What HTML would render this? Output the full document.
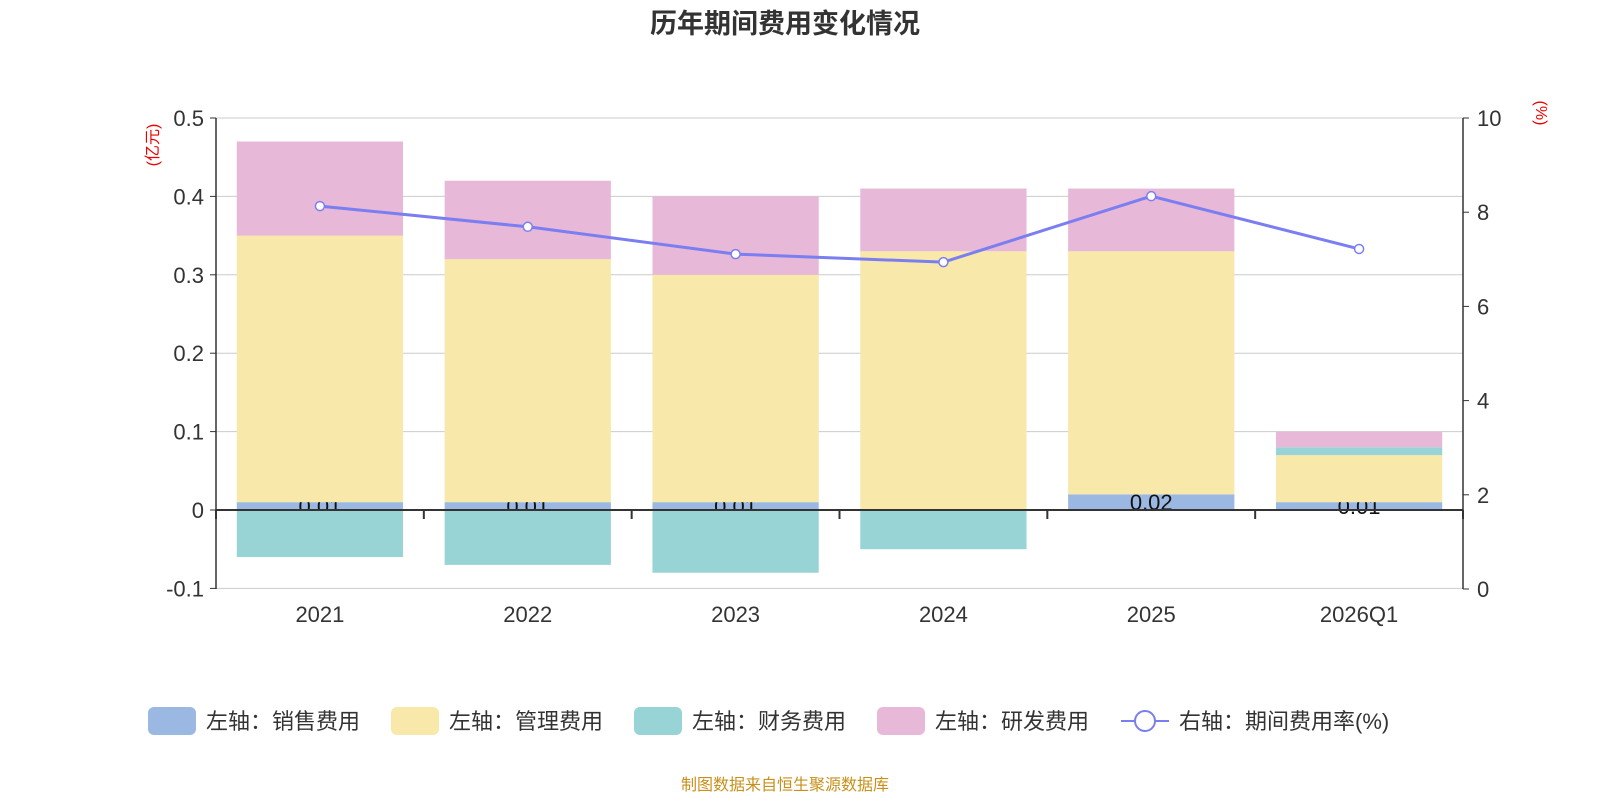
<!DOCTYPE html>
<html><head><meta charset="utf-8"><style>
body{margin:0;background:#fff;}
svg{display:block;font-family:"Liberation Sans","Noto Sans CJK SC",sans-serif;}
</style></head><body>
<svg id="c" width="1600" height="800">
<text x="785" y="33" text-anchor="middle" font-size="27" font-weight="bold" fill="#333">历年期间费用变化情况</text>
<text x="158" y="145" font-size="16" fill="#e00" transform="rotate(-90 158 145)" text-anchor="middle">(亿元)</text>
<text x="1536" y="113" font-size="16" fill="#e00" transform="rotate(90 1536 113)" text-anchor="middle">(%)</text>
<g id="grid"></g><g id="bars"></g><g id="axes"></g><g id="line"></g><g id="legend"></g>
<text x="785" y="790" text-anchor="middle" font-size="16" fill="#c8901a">制图数据来自恒生聚源数据库</text>
</svg>
<script>
const categories=["2021","2022","2023","2024","2025","2026Q1"];
const sales=[0.01,0.01,0.01,0,0.02,0.01];
const mgmt=[0.34,0.31,0.29,0.33,0.31,0.06];
const finance=[-0.06,-0.07,-0.08,-0.05,0,0.01];
const rnd=[0.12,0.10,0.10,0.08,0.08,0.02];
const rate=[8.13,7.69,7.11,6.94,8.34,7.22];
const leftTicks=[0.5,0.4,0.3,0.2,0.1,0,-0.1];
const rightTicks=[10,8,6,4,2,0];
const NS="http://www.w3.org/2000/svg";
const L=216,R=1463,T=118,B=589;
const yL=v=>510-v*784;
const yR=v=>B-(v/10)*(B-T);
const band=(R-L)/categories.length;
const xC=i=>L+band*(i+0.5);
const bw=band*0.8;
function mk(p,tag,at){const e=document.createElementNS(NS,tag);for(const k in at)e.setAttribute(k,at[k]);document.getElementById(p).appendChild(e);return e;}
leftTicks.forEach(t=>{
 const g=mk('grid','line',{x1:L,x2:R,y1:yL(t),y2:yL(t),stroke:'#ccc','stroke-width':1});
 
 
 const tx=mk('axes','text',{x:L-12,y:yL(t)+8,'text-anchor':'end','font-size':22,fill:'#333'});
 tx.textContent=String(t);
 
 
 mk('axes','line',{x1:L-6,x2:L,y1:yL(t),y2:yL(t),stroke:'#333','stroke-width':1});
});
rightTicks.forEach(t=>{
 const tx=mk('axes','text',{x:R+14,y:yR(t)+8,'font-size':22,fill:'#333'});
 tx.textContent=t;
 
 
 mk('axes','line',{x1:R,x2:R+6,y1:yR(t),y2:yR(t),stroke:'#333','stroke-width':1});
});
mk('axes','line',{x1:L,x2:L,y1:T,y2:B,stroke:'#333','stroke-width':1.5});
mk('axes','line',{x1:R,x2:R,y1:T,y2:B,stroke:'#333','stroke-width':1.5});
mk('axes','line',{x1:L,x2:R,y1:510,y2:510,stroke:'#333','stroke-width':2});
for(let i=0;i<=categories.length;i++){mk('axes','line',{x1:L+band*i,x2:L+band*i,y1:510,y2:519,stroke:'#333','stroke-width':2});}
categories.forEach((c,i)=>{
 const tx=mk('axes','text',{x:xC(i),y:622,'text-anchor':'middle','font-size':22,fill:'#333'});
 tx.textContent=c;
 
 
});
function rect(v0,v1,i,col,name){
 const y0=yL(Math.max(v0,v1)),y1=yL(Math.min(v0,v1));
 if(y1-y0<=0)return;
 const r=mk('bars','rect',{x:xC(i)-bw/2,y:y0,width:bw,height:y1-y0,fill:col});
 
 
}
categories.forEach((c,i)=>{
 rect(0,sales[i],i,'#9bb8e2','bar-sales');
 if(sales[i]>0){const t=mk('bars','text',{x:xC(i),y:yL(sales[i]/2)+8,'text-anchor':'middle','font-size':22,fill:'#111'});t.textContent=sales[i].toFixed(2);
 
 }
});
categories.forEach((c,i)=>{
 const s=sales[i];
 rect(s,s+mgmt[i],i,'#f8e8a9','bar-management');
 let top=s+mgmt[i];
 if(finance[i]<0)rect(0,finance[i],i,'#98d4d5','bar-finance');
 else{rect(top,top+finance[i],i,'#98d4d5','bar-finance');top+=finance[i];}
 rect(top,top+rnd[i],i,'#e7b8d8','bar-rnd');
});
const pts=rate.map((v,i)=>xC(i)+','+yR(v)).join(' ');
const pl=mk('line','polyline',{points:pts,fill:'none',stroke:'#7a7ef0','stroke-width':3});


rate.forEach((v,i)=>{const p=mk('line','circle',{cx:xC(i),cy:yR(v),r:4.5,fill:'#fff',stroke:'#7a7ef0','stroke-width':1.5});
 
 });
const leg=[['左轴：销售费用','#9bb8e2',148],['左轴：管理费用','#f8e8a9',391],['左轴：财务费用','#98d4d5',634],['左轴：研发费用','#e7b8d8',877]];
leg.forEach(l=>{
 const r=mk('legend','rect',{x:l[2],y:707,width:48,height:28,rx:6,fill:l[1]});
 
 
 const t=mk('legend','text',{x:l[2]+58,y:729,'font-size':22,fill:'#333'});t.textContent=l[0];
 
 
});
mk('legend','line',{x1:1121,x2:1169,y1:721,y2:721,stroke:'#7a7ef0','stroke-width':2});
mk('legend','circle',{cx:1145,cy:721,r:10,fill:'#fff',stroke:'#7a7ef0','stroke-width':2});
const lt=mk('legend','text',{x:1179,y:729,'font-size':22,fill:'#333'});lt.textContent='右轴：期间费用率(%)';


</script>
</body></html>
